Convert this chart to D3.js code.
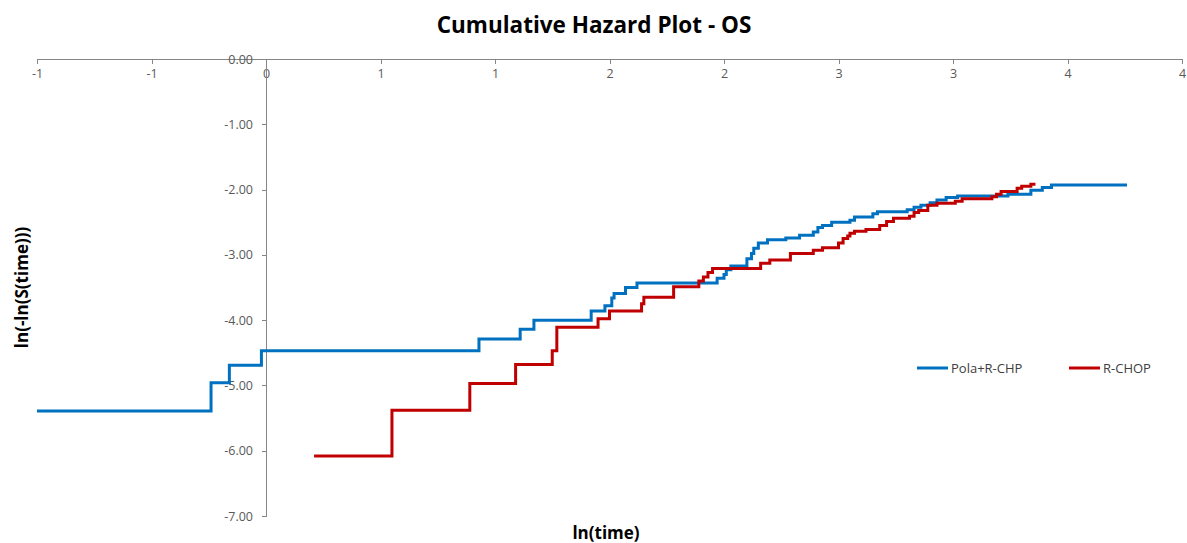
<!DOCTYPE html>
<html>
<head>
<meta charset="utf-8">
<script src="https://cdn.jsdelivr.net/npm/d3@7"></script>
<style>
  body { margin: 0; background: #fff; }
  .axis path, .axis line { stroke: #868686; shape-rendering: crispEdges; }
  .axis text { fill: #595959; font-family: "Open Sans", "Noto Sans", sans-serif; font-size: 12.5px; }
  .series { fill: none; stroke-width: 3px; }
</style>
</head>
<body>
<div id="chart"></div>
<script>
// ln(time) where each step starts, and ln(-ln(S(time))) from there on
var polaX = [-1.00, -0.24, -0.16, -0.02, 0.93, 1.11, 1.17, 1.42, 1.48, 1.51, 1.52, 1.57, 1.62,
  1.97, 2.00, 2.01, 2.03, 2.10, 2.12, 2.13, 2.15, 2.19, 2.27, 2.33, 2.39, 2.41, 2.43, 2.47,
  2.55, 2.57, 2.65, 2.67, 2.80, 2.83, 2.86, 2.90, 2.93, 2.97, 3.02, 3.24, 3.34, 3.39, 3.43, 3.76];
var polaY = [-5.39, -4.96, -4.69, -4.47, -4.29, -4.14, -4.00, -3.86, -3.78, -3.66, -3.59, -3.50, -3.43,
  -3.36, -3.30, -3.23, -3.17, -3.06, -2.98, -2.90, -2.82, -2.77, -2.74, -2.70, -2.65, -2.58, -2.55, -2.50,
  -2.47, -2.42, -2.37, -2.34, -2.31, -2.27, -2.24, -2.20, -2.16, -2.12, -2.10, -2.07, -2.01, -1.97, -1.93, -1.93];

var rchopX = [0.21, 0.55, 0.89, 1.09, 1.25, 1.27, 1.45, 1.50, 1.64, 1.65, 1.78, 1.89, 1.91, 1.93, 1.95,
  2.16, 2.20, 2.29, 2.39, 2.43, 2.50, 2.52, 2.54, 2.55, 2.57, 2.62, 2.68, 2.71, 2.74, 2.81, 2.83,
  2.85, 2.89, 2.93, 3.01, 3.04, 3.17, 3.19, 3.21, 3.28, 3.30, 3.34, 3.36];
var rchopY = [-6.08, -5.38, -4.97, -4.68, -4.47, -4.11, -3.98, -3.86, -3.75, -3.65, -3.49, -3.40, -3.34, -3.27, -3.21,
  -3.13, -3.08, -2.98, -2.93, -2.89, -2.82, -2.75, -2.71, -2.67, -2.64, -2.61, -2.55, -2.49, -2.44, -2.41, -2.35,
  -2.32, -2.24, -2.21, -2.18, -2.14, -2.11, -2.07, -2.03, -1.98, -1.95, -1.92, -1.92];

var seriesNames = ["Pola+R-CHP", "R-CHOP"];
var seriesColors = ["#0070C0", "#C00000"];

// excel shows the half steps rounded to whole numbers
var xTicks = [-1, -0.5, 0, 0.5, 1, 1.5, 2, 2.5, 3, 3.5, 4];
var xTickLabels = ["-1", "-1", "0", "1", "1", "2", "2", "3", "3", "4", "4"];
var yTicks = [0, -1, -2, -3, -4, -5, -6, -7];

var margin = {top: 59, right: 5, bottom: 27, left: 37},
    width = 1187 - margin.left - margin.right,
    height = 543 - margin.top - margin.bottom;

var svg = d3.select("#chart").append("svg")
    .attr("width", width + margin.left + margin.right)
    .attr("height", height + margin.top + margin.bottom)
  .append("g")
    .attr("transform", "translate(" + margin.left + "," + margin.top + ")");

var x = d3.scaleLinear().domain([-1, 4]).range([0, width]);
var y = d3.scaleLinear().domain([-7, 0]).range([height, 0]);

// chart title
svg.append("text")
    .attr("x", 557)
    .attr("y", -26)
    .attr("text-anchor", "middle")
    .style("font-family", "'Open Sans', 'Noto Sans', sans-serif")
    .style("font-weight", "bold")
    .style("font-size", "22.5px")
    .style("fill", "#000")
    .text("Cumulative Hazard Plot - OS");

var xAxis = d3.axisBottom(x)
    .tickValues(xTicks)
    .tickFormat(function(d, i){ return xTickLabels[i]; })
    .tickSize(5)
    .tickSizeOuter(0)
    .tickPadding(5);

var yAxis = d3.axisLeft(y)
    .tickValues(yTicks)
    .tickFormat(function(d){ return d.toFixed(2); })
    .tickSize(4)
    .tickSizeOuter(0)
    .tickPadding(9);

svg.append("g")
    .attr("class", "x axis")
    .attr("transform", "translate(0," + y(0) + ")")
    .call(xAxis);

svg.append("g")
    .attr("class", "y axis")
    .attr("transform", "translate(" + x(0) + ",0)")
    .call(yAxis);

// axis labels
svg.append("text")
    .attr("transform", "rotate(-90)")
    .attr("x", -(y(-3.5)))
    .attr("y", -9)
    .attr("text-anchor", "middle")
    .style("font-family", "'Open Sans', 'Noto Sans', sans-serif")
    .style("font-weight", "bold")
    .style("font-size", "17px")
    .text("ln(-ln(S(time)))");

svg.append("text")
    .attr("x", 569)
    .attr("y", height + 23)
    .attr("text-anchor", "middle")
    .style("font-family", "'Open Sans', 'Noto Sans', sans-serif")
    .style("font-weight", "bold")
    .style("font-size", "17px")
    .text("ln(time)");

var line = d3.line()
    .x(function(d){ return x(d[0]); })
    .y(function(d){ return y(d[1]); })
    .curve(d3.curveStepAfter);

var seriesData = [d3.zip(polaX, polaY), d3.zip(rchopX, rchopY)];

svg.selectAll(".series")
    .data(seriesData)
  .enter().append("path")
    .attr("class", "series")
    .attr("stroke", function(d, i){ return seriesColors[i]; })
    .attr("d", line);

// legend
var legend = svg.selectAll(".legend")
    .data(seriesNames)
  .enter().append("g")
    .attr("class", "legend")
    .attr("transform", function(d, i){ return "translate(" + (880 + i * 152) + "," + 309 + ")"; });

legend.append("line")
    .attr("x1", 0)
    .attr("x2", 31)
    .attr("stroke", function(d, i){ return seriesColors[i]; })
    .attr("stroke-width", 3);

legend.append("text")
    .attr("x", 34)
    .attr("y", 4.5)
    .style("font-family", "'Open Sans', 'Noto Sans', sans-serif")
    .style("font-size", "13px")
    .style("fill", "#404040")
    .text(function(d){ return d; });
</script>
</body>
</html>
